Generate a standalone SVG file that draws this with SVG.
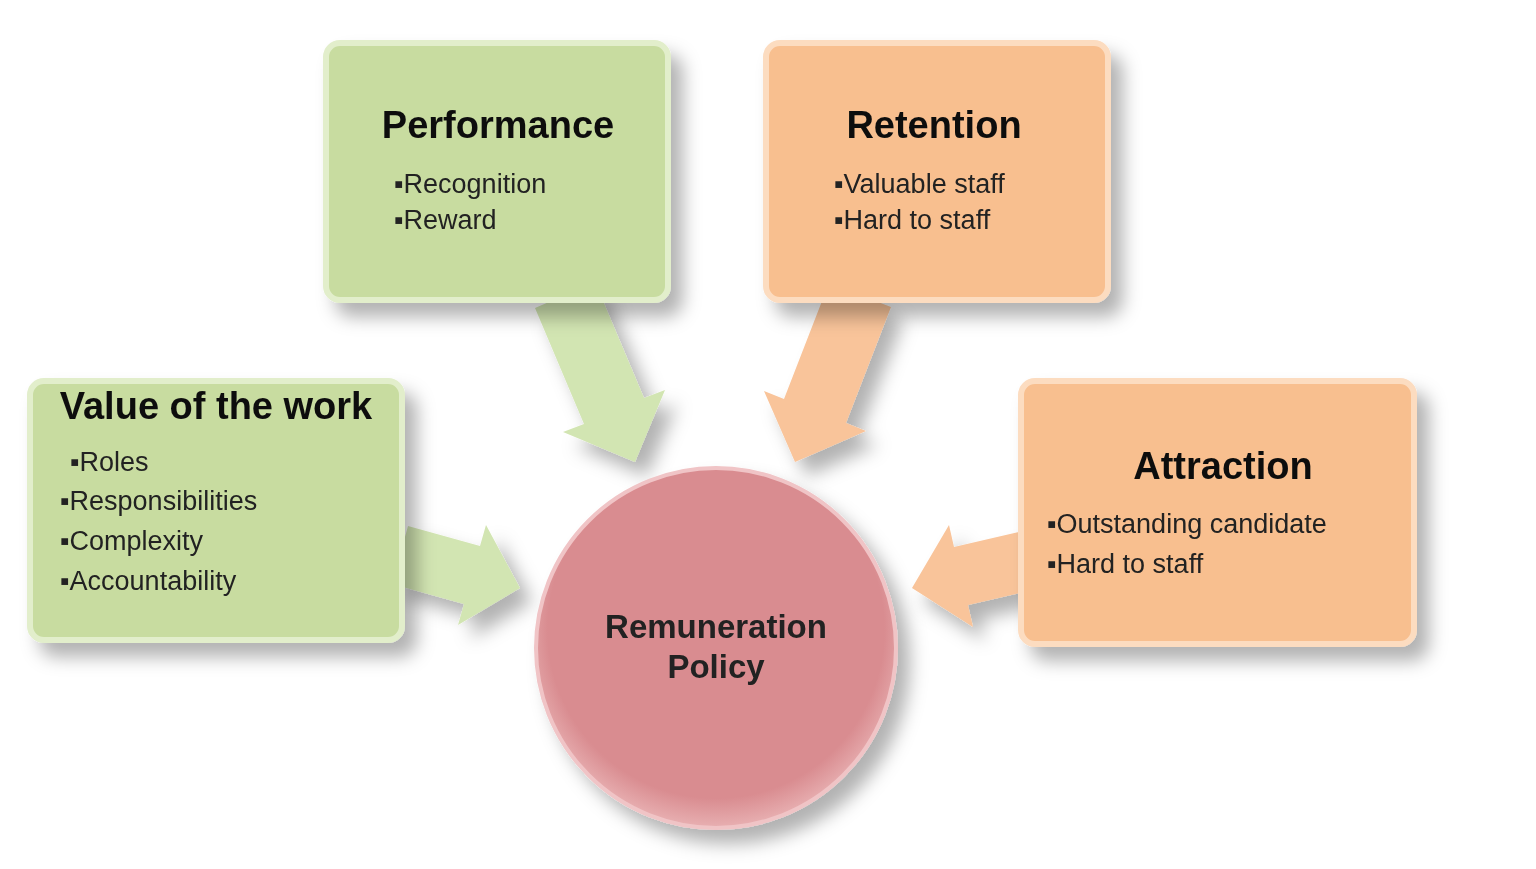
<svg xmlns="http://www.w3.org/2000/svg" width="1536" height="869" viewBox="0 0 1536 869">
<defs>
<filter id="sh" x="-20%" y="-20%" width="150%" height="150%"><feDropShadow dx="12" dy="14" stdDeviation="9" flood-color="#000" flood-opacity="0.3"/></filter>
<radialGradient id="cg" cx="0.5" cy="0.45" r="0.55"><stop offset="0.85" stop-color="#d98c90"/><stop offset="1" stop-color="#e8b0b2"/></radialGradient>
</defs>
<style>
.g{fill:#c8dca0;stroke:#e2eecb;stroke-width:6}
.o{fill:#f8bf8f;stroke:#fcdcc0;stroke-width:6}
.ga{fill:#d2e5b2}
.oa{fill:#f9c49a}
.t{font-family:"Liberation Sans",Arial,sans-serif;font-weight:bold;font-size:38px;fill:#111}
.b{font-family:"Liberation Sans",Arial,sans-serif;font-size:27px;fill:#222}
.c{font-family:"Liberation Sans",Arial,sans-serif;font-weight:bold;font-size:33px;fill:#222}
</style>
<rect width="1536" height="869" fill="#fff"/>
<g id="connectors" filter="url(#sh)">
<polygon class="ga" points="535,308 595,282 644,398 665,390 635,462 563,432 584,424"/>
<polygon class="oa" points="829,283 891,307 846,423 866,431 795,462 764,391 784,399"/>
<polygon class="ga" points="408,526 480,546 486,525 520,588 458,625 464,604 392,584"/>
<polygon class="oa" points="1023,531 954,547 949,525 912,588 973,627 968,605 1037,589"/>
</g>
<g id="performance" filter="url(#sh)">
<rect class="g" x="326" y="43" width="342" height="257" rx="14"/>
<text class="t" x="498" y="138" text-anchor="middle">Performance</text>
<text class="b" x="394" y="193">▪Recognition</text>
<text class="b" x="394" y="229">▪Reward</text>
</g>
<g id="retention" filter="url(#sh)">
<rect class="o" x="766" y="43" width="342" height="257" rx="14"/>
<text class="t" x="934" y="138" text-anchor="middle">Retention</text>
<text class="b" x="834" y="193">▪Valuable staff</text>
<text class="b" x="834" y="229">▪Hard to staff</text>
</g>
<g id="value" filter="url(#sh)">
<rect class="g" x="30" y="381" width="372" height="259" rx="14"/>
<text class="t" x="216" y="419" text-anchor="middle">Value of the work</text>
<text class="b" x="70" y="471">▪Roles</text>
<text class="b" x="60" y="510">▪Responsibilities</text>
<text class="b" x="60" y="550">▪Complexity</text>
<text class="b" x="60" y="590">▪Accountability</text>
</g>
<g id="attraction" filter="url(#sh)">
<rect class="o" x="1021" y="381" width="393" height="263" rx="14"/>
<text class="t" x="1223" y="479" text-anchor="middle">Attraction</text>
<text class="b" x="1047" y="533">▪Outstanding candidate</text>
<text class="b" x="1047" y="573">▪Hard to staff</text>
</g>
<g id="remuneration" filter="url(#sh)">
<circle cx="716" cy="648" r="180" fill="url(#cg)" stroke="#f0c4c6" stroke-width="4"/>
<text class="c" x="716" y="638" text-anchor="middle">Remuneration</text>
<text class="c" x="716" y="678" text-anchor="middle">Policy</text>
</g>
</svg>
